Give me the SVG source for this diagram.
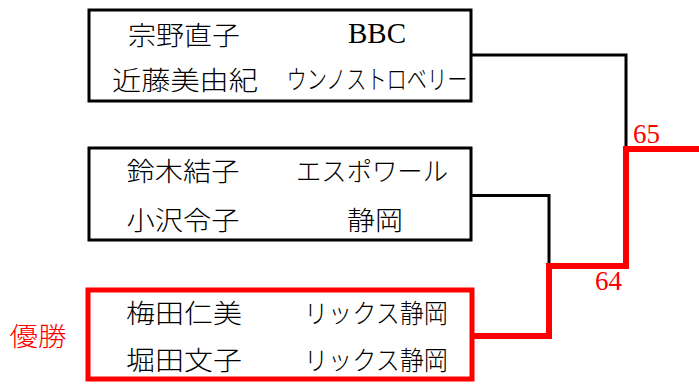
<svg xmlns="http://www.w3.org/2000/svg" width="699" height="384" viewBox="0 0 699 384">
<style>
.box{fill:#fff;stroke:#000;stroke-width:3}
.win{fill:#fff;stroke:#f00;stroke-width:5}
.t{font-family:"Noto Sans CJK JP","Noto Sans CJK SC",sans-serif;font-size:26px;font-weight:300;fill:#000;text-anchor:middle}
.l{font-family:"Liberation Serif","Times New Roman","DejaVu Serif",serif;fill:#000;text-anchor:middle}
.num{font-family:"Liberation Serif","Times New Roman","DejaVu Serif",serif;fill:#f00;font-size:27px;text-anchor:middle}
.blk{fill:none;stroke:#000;stroke-width:3}
.red{fill:none;stroke:#f00;stroke-width:6}
</style>
<g id="connectors">
<path class="blk" d="M471,55 H626 V149"/>
<path class="blk" d="M471,195.5 H549 V266"/>
<path class="red" d="M471,336 H549 V266 H626 V149 H699"/>
<text class="num" x="646.5" y="143" style="font-family:'Liberation Serif',serif">65</text>
<text class="num" x="608.5" y="290" style="font-family:'Liberation Serif',serif">64</text>
</g>
<g id="team1">
<rect class="box" x="89" y="10" width="382" height="91"/>
<text class="t" x="184" y="45" textLength="112" lengthAdjust="spacingAndGlyphs">宗野直子</text>
<text class="t" x="185" y="90" textLength="146" lengthAdjust="spacingAndGlyphs">近藤美由紀</text>
<text class="l" x="377" y="43" font-size="29">BBC</text>
<text class="t" x="377" y="89" font-size="20" textLength="181" lengthAdjust="spacingAndGlyphs">ウンノストロベリー</text>
</g>
<g id="team2">
<rect class="box" x="89" y="148" width="382" height="92"/>
<text class="t" x="183" y="181" textLength="113" lengthAdjust="spacingAndGlyphs">鈴木結子</text>
<text class="t" x="183" y="230" textLength="113" lengthAdjust="spacingAndGlyphs">小沢令子</text>
<text class="t" x="372" y="181" font-size="25" textLength="152" lengthAdjust="spacingAndGlyphs">エスポワール</text>
<text class="t" x="375" y="230" textLength="56" lengthAdjust="spacingAndGlyphs">静岡</text>
</g>
<g id="team3">
<rect class="win" x="88" y="290" width="384" height="89"/>
<text class="t" x="184" y="323" textLength="116" lengthAdjust="spacingAndGlyphs">梅田仁美</text>
<text class="t" x="184" y="370" textLength="116" lengthAdjust="spacingAndGlyphs">堀田文子</text>
<text class="t" x="376" y="323" font-size="24" textLength="144" lengthAdjust="spacingAndGlyphs">リックス静岡</text>
<text class="t" x="376" y="370" font-size="24" textLength="144" lengthAdjust="spacingAndGlyphs">リックス静岡</text>
</g>
<g id="winner-label">
<text class="t" x="38" y="346" font-size="29" style="fill:#f00" textLength="57" lengthAdjust="spacingAndGlyphs">優勝</text>
</g>
</svg>
